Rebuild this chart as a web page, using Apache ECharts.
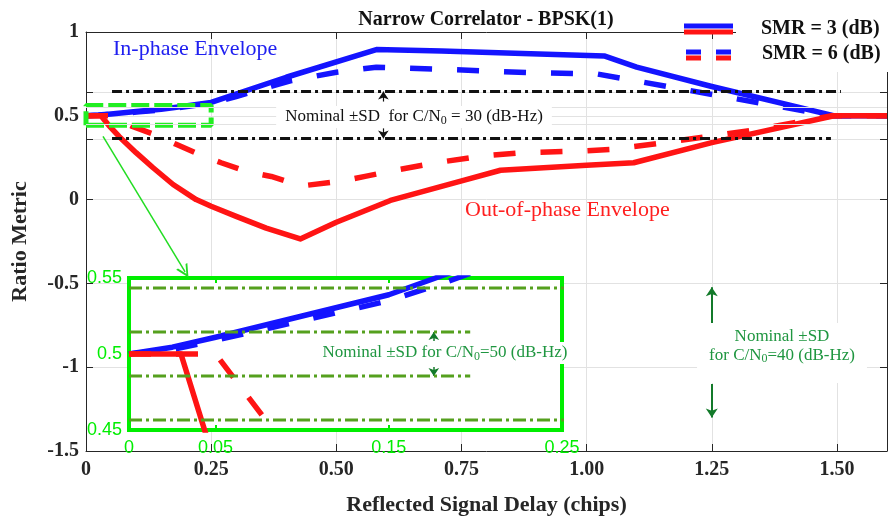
<!DOCTYPE html>
<html>
<head>
<meta charset="utf-8">
<script src="https://cdn.jsdelivr.net/npm/echarts@6/dist/echarts.min.js"></script>
<style>
  html, body { margin: 0; padding: 0; background: #ffffff; }
  #chart { width: 889px; height: 525px; }
</style>
</head>
<body>
<div id="chart"></div>
<script>
// Ratio metric envelopes vs reflected signal delay (chips): [delay, ratio]
const inPhaseSmr3 = [[0,0.5],[0.025,0.5045],[0.05,0.511],[0.1,0.525],[0.15,0.539],[0.177,0.55],[0.25,0.58],[0.4,0.73],[0.58,0.895],[0.71,0.886],[1.035,0.857],[1.1,0.79],[1.25,0.675],[1.495,0.5],[1.6,0.5]];
const inPhaseSmr6 = [[0,0.5],[0.025,0.503],[0.05,0.509],[0.1,0.522],[0.15,0.535],[0.18,0.546],[0.25,0.575],[0.3,0.615],[0.41,0.71],[0.5,0.76],[0.58,0.79],[0.71,0.778],[0.89,0.757],[1.02,0.75],[1.49,0.5],[1.6,0.5]];
const outPhaseSmr3 = [[0,0.5],[0.03,0.5],[0.045,0.445],[0.066,0.377],[0.1,0.28],[0.134,0.19],[0.174,0.09],[0.22,0],[0.25,-0.04],[0.3,-0.1],[0.36,-0.17],[0.428,-0.235],[0.5,-0.135],[0.608,-0.005],[0.754,0.115],[0.828,0.175],[1.0,0.205],[1.094,0.22],[1.25,0.34],[1.494,0.5],[1.6,0.5]];
const outPhaseSmr6 = [[0,0.5],[0.05,0.5],[0.09,0.44],[0.136,0.389],[0.18,0.33],[0.226,0.27],[0.27,0.22],[0.32,0.168],[0.37,0.138],[0.41,0.1],[0.44,0.085],[0.51,0.11],[0.56,0.14],[0.6,0.165],[0.7,0.22],[0.79,0.26],[0.87,0.28],[0.99,0.29],[1.05,0.3],[1.155,0.34],[1.245,0.377],[1.345,0.42],[1.49,0.5],[1.6,0.5]];

// Nominal +/- SD bands: [lower, upper] levels and [start, end] delays
const sd30Band = [0.365, 0.645];
const sd30Upper = [0.052, 1.508];
const sd30Lower = [0.052, 1.488];
const sd40Band = [0.4565, 0.5435];
const sd40Upper = [0, 0.40];
const sd40Lower = [0, 0.403];
const sd50Band = [0.4855, 0.5145];
const sd50Span = [0, 0.197];

// Zoomed region marker (delay range, ratio range)
const zoomBoxX = [0, 0.25];
const zoomBoxY = [0.443, 0.562];

// Tick labels
const xTickValues = [0, 0.25, 0.5, 0.75, 1, 1.25, 1.5];
const xTickLabels = ['0', '0.25', '0.50', '0.75', '1.00', '1.25', '1.50'];
const yTickValues = [-1.5, -1, -0.5, 0, 0.5, 1];
const yTickLabels = ['-1.5', '-1', '-0.5', '0', '0.5', '1'];
const yTickMarks = [-1.5, -1, -0.5, 0, 0.36, 0.45, 0.5, 0.55, 0.64, 1];
const insetXTickValues = [0, 0.05, 0.15, 0.25];
const insetXTickLabels = ['0', '0.05', '0.15', '0.25'];
const insetYTickValues = [0.45, 0.5, 0.55];
const insetYTickLabels = ['0.45', '0.5', '0.55'];

const SERIF = '"Liberation Serif", "Times New Roman", serif';
const SANS = '"Liberation Sans", Arial, sans-serif';
const BLUE = '#1414ff';
const RED = '#ff1414';
const AXIS = '#262626';
const GRIDLINE = '#e2e2e2';
const BRIGHT_GREEN = '#00ee00';
const OLIVE = '#55a01e';
const DARK_GREEN = '#137a2a';
const TEXT_GREEN = '#1f9640';

const lookup = (vals, labels) => v => {
  const i = vals.findIndex(t => Math.abs(t - v) < 1e-9);
  return i < 0 ? '' : labels[i];
};

function curve(data, color, dashed, xi, yi, z) {
  return {
    type: 'line', data, xAxisIndex: xi, yAxisIndex: yi, z,
    showSymbol: false, symbol: 'none', silent: true, clip: true,
    lineStyle: { color, width: 5.5, type: dashed ? [22, 25] : 'solid', cap: 'butt', join: 'round' }
  };
}

function level(y, span, color, dash, width, xi, yi, z, clip) {
  return {
    type: 'line', data: [[span[0], y], [span[1], y]], xAxisIndex: xi, yAxisIndex: yi, z,
    showSymbol: false, symbol: 'none', silent: true, clip,
    lineStyle: { color, width, type: dash }
  };
}

function arrows(pairs, color, size, width, xi, yi, z, symbol) {
  return {
    type: 'line', data: [], xAxisIndex: xi, yAxisIndex: yi, z, silent: true,
    markLine: {
      silent: true, animation: false,
      symbol: ['none', symbol || 'arrow'], symbolSize: size,
      label: { show: false },
      lineStyle: { color, width, type: 'solid' },
      data: pairs.map(p => [{ coord: p[0] }, { coord: p[1] }])
    }
  };
}

const dashDot = [10, 4, 3, 4];
const oliveDash = [13, 4, 3, 4];

const series = [
  // light guide lines at the zoom window limits
  {
    type: 'line', data: [], xAxisIndex: 0, yAxisIndex: 0, z: 1, silent: true,
    markLine: {
      silent: true, animation: false, symbol: ['none', 'none'], label: { show: false },
      lineStyle: { color: GRIDLINE, width: 1, type: 'solid' },
      data: [{ yAxis: 0.45 }, { yAxis: 0.55 }]
    }
  },
  curve(inPhaseSmr3, BLUE, false, 0, 0, 2),
  curve(inPhaseSmr6, BLUE, true, 0, 0, 2),
  curve(outPhaseSmr3, RED, false, 0, 0, 2),
  curve(outPhaseSmr6, RED, true, 0, 0, 2),
  level(sd30Band[1], sd30Upper, '#111111', dashDot, 3, 0, 0, 2, false),
  level(sd30Band[0], sd30Lower, '#111111', dashDot, 3, 0, 0, 2, false),
  {
    type: 'line', xAxisIndex: 0, yAxisIndex: 0, z: 2, silent: true, clip: false,
    showSymbol: false, symbol: 'none',
    data: [[zoomBoxX[0], zoomBoxY[0]], [zoomBoxX[1], zoomBoxY[0]], [zoomBoxX[1], zoomBoxY[1]], [zoomBoxX[0], zoomBoxY[1]], [zoomBoxX[0], zoomBoxY[0]]],
    lineStyle: { color: '#22ee22', width: 5, type: [18, 5] }
  },
  arrows([[[0.034, 0.377], [0.198, -0.431]]], '#22dd22', 13, 1.5, 0, 0, 2,
    'path://M5,0 L10,10 L8.4,10 L5,3.2 L1.6,10 L0,10 Z'),
  arrows([[[0.594, 0.585], [0.594, 0.645]], [[0.594, 0.425], [0.594, 0.365]]], '#111111', 8, 1.2, 0, 0, 3),
  arrows([[[1.25, -0.74], [1.25, -0.523]], [[1.25, -1.10], [1.25, -1.30]]], DARK_GREEN, 9, 2, 0, 0, 6),

  // inset: the first quarter chip around ratio 0.5
  curve(inPhaseSmr3, BLUE, false, 2, 2, 5),
  curve(inPhaseSmr6, BLUE, true, 2, 2, 5),
  curve(outPhaseSmr6, RED, true, 2, 2, 5),
  curve(outPhaseSmr3, RED, false, 2, 2, 5),
  level(sd40Band[1], sd40Upper, OLIVE, oliveDash, 3, 2, 2, 6, false),
  level(sd40Band[0], sd40Lower, OLIVE, oliveDash, 3, 2, 2, 6, false),
  level(sd50Band[1], sd50Span, OLIVE, oliveDash, 3, 2, 2, 6, false),
  level(sd50Band[0], sd50Span, OLIVE, oliveDash, 3, 2, 2, 6, false),
  arrows([[[0.176, 0.5085], [0.176, 0.5145]], [[0.176, 0.4915], [0.176, 0.4855]]], DARK_GREEN, 8, 1.5, 2, 2, 7)
];

const mainAxisCommon = {
  type: 'value',
  axisLine: { show: true, onZero: false, lineStyle: { color: AXIS, width: 1 } },
  splitLine: { show: false }
};

const option = {
  animation: false,
  backgroundColor: '#ffffff',
  grid: [
    { left: 86, right: 2, top: 32, bottom: 74, show: false },
    { left: 129, top: 278, width: 433, height: 152, show: true, z: 3,
      backgroundColor: '#ffffff', borderColor: BRIGHT_GREEN, borderWidth: 4 }
  ],
  xAxis: [
    Object.assign({}, mainAxisCommon, {
      gridIndex: 0, min: 0, max: 1.6, interval: 0.25, position: 'bottom',
      axisTick: { show: true, inside: true, length: 7, lineStyle: { color: AXIS } },
      axisLabel: {
        formatter: lookup(xTickValues, xTickLabels), showMaxLabel: false,
        fontFamily: SERIF, fontWeight: 'bold', fontSize: 20, color: AXIS, margin: 9
      },
      splitLine: { show: true, lineStyle: { color: GRIDLINE, width: 1 } },
      name: 'Reflected Signal Delay (chips)', nameLocation: 'middle', nameGap: 43,
      nameTextStyle: { fontFamily: SERIF, fontWeight: 'bold', fontSize: 22, color: AXIS }
    }),
    Object.assign({}, mainAxisCommon, {
      gridIndex: 0, min: 0, max: 1.6, interval: 0.25, position: 'top',
      axisTick: { show: true, inside: true, length: 7, lineStyle: { color: AXIS } },
      axisLabel: { show: false }
    }),
    {
      type: 'value', gridIndex: 1, min: 0, max: 0.25, interval: 0.05, position: 'bottom', z: 4,
      axisLine: { show: false, onZero: false },
      axisTick: { show: true, inside: true, length: 5, customValues: [0.05, 0.15], lineStyle: { color: BRIGHT_GREEN, width: 2 } },
      axisLabel: { formatter: lookup(insetXTickValues, insetXTickLabels), fontFamily: SANS, fontSize: 18, color: BRIGHT_GREEN, margin: 9 },
      splitLine: { show: false }
    },
    {
      type: 'value', gridIndex: 1, min: 0, max: 0.25, interval: 0.05, position: 'top', z: 4,
      axisLine: { show: false, onZero: false },
      axisTick: { show: true, inside: true, length: 5, customValues: [0.05, 0.15], lineStyle: { color: BRIGHT_GREEN, width: 2 } },
      axisLabel: { show: false },
      splitLine: { show: false }
    }
  ],
  yAxis: [
    Object.assign({}, mainAxisCommon, {
      gridIndex: 0, min: -1.5, max: 1, interval: 0.5, position: 'left',
      axisTick: { show: true, inside: true, length: 7, customValues: yTickMarks, lineStyle: { color: AXIS } },
      axisLabel: {
        formatter: lookup(yTickValues, yTickLabels),
        fontFamily: SERIF, fontWeight: 'bold', fontSize: 20, color: AXIS, margin: 7
      },
      splitLine: { show: true, lineStyle: { color: GRIDLINE, width: 1 } },
      name: 'Ratio Metric', nameLocation: 'middle', nameGap: 55, nameRotate: 90,
      nameTextStyle: { fontFamily: SERIF, fontWeight: 'bold', fontSize: 22, color: AXIS }
    }),
    Object.assign({}, mainAxisCommon, {
      gridIndex: 0, min: -1.5, max: 1, interval: 0.5, position: 'right',
      axisTick: { show: true, inside: true, length: 7, customValues: yTickMarks, lineStyle: { color: AXIS } },
      axisLabel: { show: false }
    }),
    {
      type: 'value', gridIndex: 1, min: 0.45, max: 0.55, interval: 0.05, position: 'left', z: 4,
      axisLine: { show: false, onZero: false },
      axisTick: { show: false },
      axisLabel: { formatter: lookup(insetYTickValues, insetYTickLabels), fontFamily: SANS, fontSize: 18, color: BRIGHT_GREEN, margin: 7 },
      splitLine: { show: false }
    }
  ],
  series,
  graphic: [
    // title
    { type: 'text', x: 486, y: 20, z: 20, silent: true,
      style: { text: 'Narrow Correlator - BPSK(1)', font: 'bold 20px ' + SERIF, fill: '#111111', align: 'center', verticalAlign: 'middle' } },
    // legend panel
    { type: 'rect', z: 20, silent: true, shape: { x: 736, y: 0, width: 153, height: 72 }, style: { fill: '#ffffff' } },
    { type: 'line', z: 21, silent: true, shape: { x1: 684, y1: 26, x2: 733, y2: 26 }, style: { stroke: BLUE, lineWidth: 5 } },
    { type: 'line', z: 21, silent: true, shape: { x1: 684, y1: 32, x2: 733, y2: 32 }, style: { stroke: RED, lineWidth: 5 } },
    { type: 'line', z: 21, silent: true, shape: { x1: 686, y1: 52, x2: 701, y2: 52 }, style: { stroke: BLUE, lineWidth: 5 } },
    { type: 'line', z: 21, silent: true, shape: { x1: 716, y1: 52, x2: 731, y2: 52 }, style: { stroke: BLUE, lineWidth: 5 } },
    { type: 'line', z: 21, silent: true, shape: { x1: 686, y1: 58, x2: 701, y2: 58 }, style: { stroke: RED, lineWidth: 5 } },
    { type: 'line', z: 21, silent: true, shape: { x1: 716, y1: 58, x2: 731, y2: 58 }, style: { stroke: RED, lineWidth: 5 } },
    { type: 'text', x: 761, y: 29, z: 21, silent: true,
      style: { text: 'SMR = 3 (dB)', font: 'bold 20px ' + SERIF, fill: '#111111', align: 'left', verticalAlign: 'middle' } },
    { type: 'text', x: 762, y: 54, z: 21, silent: true,
      style: { text: 'SMR = 6 (dB)', font: 'bold 20px ' + SERIF, fill: '#111111', align: 'left', verticalAlign: 'middle' } },
    // envelope labels
    { type: 'text', x: 113, y: 49, z: 20, silent: true,
      style: { text: 'In-phase Envelope', font: '22px ' + SERIF, fill: '#2020f0', align: 'left', verticalAlign: 'middle' } },
    { type: 'text', x: 465, y: 210, z: 20, silent: true,
      style: { text: 'Out-of-phase Envelope', font: '22px ' + SERIF, fill: '#ff2020', align: 'left', verticalAlign: 'middle' } },
    // SD annotations
    { type: 'text', x: 414, y: 117, z: 20, silent: true,
      style: {
        text: 'Nominal ±SD  for C/N{s|0} = 30 (dB-Hz)',
        fontFamily: SERIF, fontSize: 17, fill: '#111111', lineHeight: 20,
        align: 'center', verticalAlign: 'middle', backgroundColor: '#ffffff', padding: [1, 9, 1, 9],
        rich: { s: { fontFamily: SERIF, fontSize: 12, fill: '#111111', lineHeight: 6, verticalAlign: 'bottom' } }
      } },
    { type: 'text', x: 445, y: 353, z: 20, silent: true,
      style: {
        text: 'Nominal ±SD for C/N{s|0}=50 (dB-Hz)',
        fontFamily: SERIF, fontSize: 17, fill: TEXT_GREEN, lineHeight: 20,
        align: 'center', verticalAlign: 'middle', backgroundColor: '#ffffff', padding: [1, 3, 1, 3],
        rich: { s: { fontFamily: SERIF, fontSize: 12, fill: TEXT_GREEN, lineHeight: 6, verticalAlign: 'bottom' } }
      } },
    { type: 'text', x: 782, y: 323, z: 20, silent: true,
      style: {
        text: 'Nominal ±SD\nfor C/N{s|0}=40 (dB-Hz)',
        fontFamily: SERIF, fontSize: 17, fill: TEXT_GREEN, lineHeight: 19,
        align: 'center', verticalAlign: 'top', backgroundColor: '#ffffff', padding: [4, 12, 18, 12],
        rich: { s: { fontFamily: SERIF, fontSize: 12, fill: TEXT_GREEN, lineHeight: 5, verticalAlign: 'bottom' } }
      } }
  ]
};

const chart = echarts.init(document.getElementById('chart'), null, { renderer: 'canvas' });
chart.setOption(option);
</script>
</body>
</html>
